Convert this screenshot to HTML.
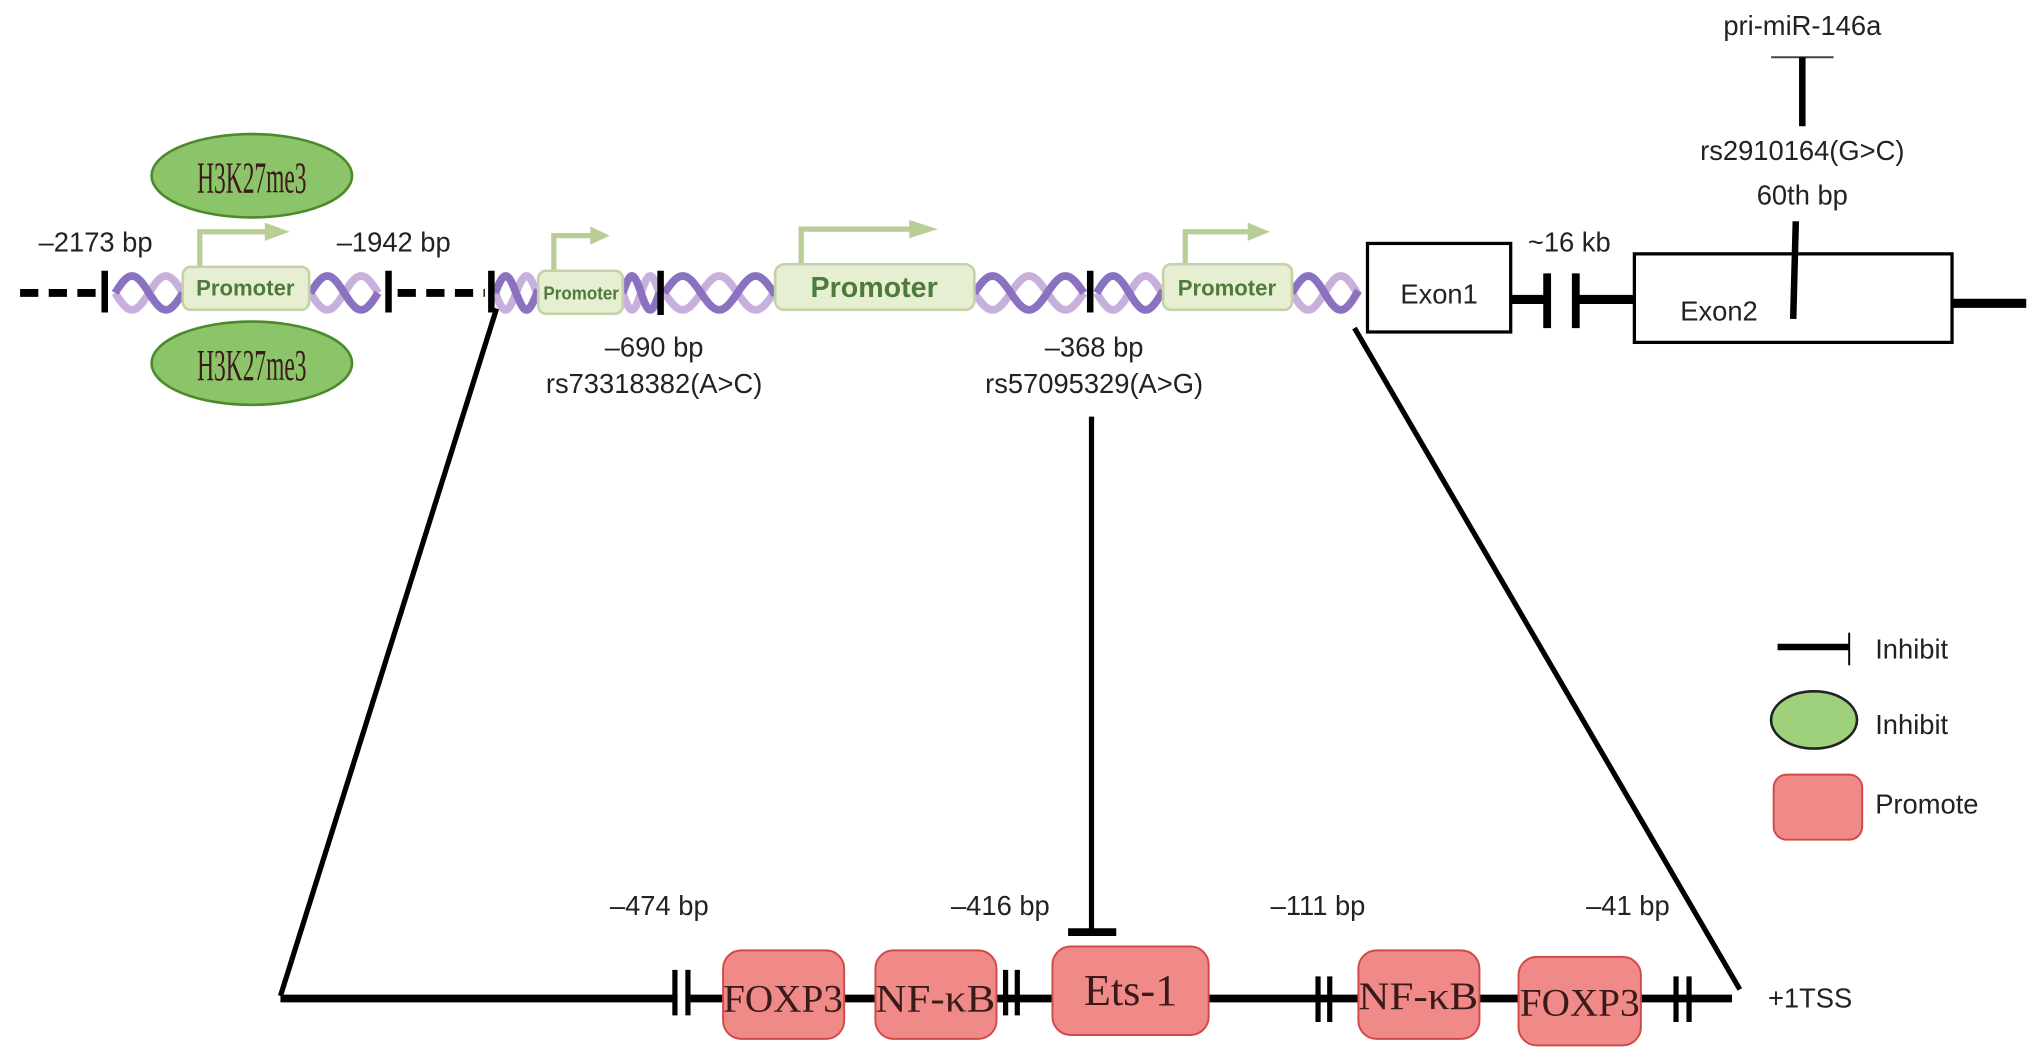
<!DOCTYPE html>
<html><head><meta charset="utf-8"><style>
html,body{margin:0;padding:0;background:#fff;}
svg{display:block;}
text{font-family:"Liberation Sans",sans-serif;fill:#222;}
.s{font-family:"Liberation Serif",serif;fill:#3a1a1a;}
</style></head><body>
<svg id="sv" width="2032" height="1061" viewBox="0 0 1560 815" xmlns="http://www.w3.org/2000/svg">
<g id="helix"></g>
<line x1="15" y1="225" x2="80" y2="225" stroke="#000" stroke-width="6" stroke-dasharray="14,8"/>
<line x1="305" y1="225" x2="372" y2="225" stroke="#000" stroke-width="6" stroke-dasharray="14,8"/>
<g stroke="#000" stroke-width="5">
<line x1="80" y1="208" x2="80" y2="240"/>
<line x1="298" y1="208" x2="298" y2="240"/>
<line x1="377" y1="208" x2="377" y2="240"/>
<line x1="507" y1="208" x2="507" y2="242"/>
<line x1="837" y1="208" x2="837" y2="240"/>
</g>
<g fill="none" stroke="#b9cd96" stroke-width="4">
<path d="M153 207 V178 H205"/><path d="M425 210 V181 H455"/><path d="M615 205 V176 H700"/><path d="M910 205 V178 H960"/>
</g>
<g fill="#b9cd96">
<polygon points="203,171 222,178 203,185"/><polygon points="453,174 468,181 453,188"/><polygon points="698,169 720,176 698,183"/><polygon points="958,171 975,178 958,185"/>
</g>
<g fill="#e7efd3" stroke="#c4d3a6" stroke-width="2">
<rect x="140" y="205" width="97" height="33" rx="6"/>
<rect x="413" y="208" width="65" height="33" rx="6"/>
<rect x="595" y="203" width="153" height="35" rx="7"/>
<rect x="893" y="203" width="99" height="35" rx="6"/>
</g>
<g font-weight="bold" text-anchor="middle">
<text x="188" y="227" font-size="17" style="fill:#4e7a3a">Promoter</text>
<text x="446" y="230" font-size="14" style="fill:#4e7a3a" textLength="58" lengthAdjust="spacingAndGlyphs">Promoter</text>
<text x="671" y="228" font-size="22" style="fill:#4e7a3a">Promoter</text>
<text x="942" y="227" font-size="17" style="fill:#4e7a3a">Promoter</text>
</g>
<g fill="#8cc46a" stroke="#4c8a2c" stroke-width="2">
<ellipse cx="193" cy="135" rx="77" ry="32"/><ellipse cx="193" cy="279" rx="77" ry="32"/>
</g>
<text class="s" x="193" y="148" font-size="34" text-anchor="middle" textLength="84" lengthAdjust="spacingAndGlyphs">H3K27me3</text>
<text class="s" x="193" y="292" font-size="34" text-anchor="middle" textLength="84" lengthAdjust="spacingAndGlyphs">H3K27me3</text>
<g stroke="#000" fill="none">
<rect x="1050" y="187" width="110" height="68" stroke-width="2.5" fill="#fff"/>
<rect x="1255" y="195" width="244" height="68" stroke-width="2.5" fill="#fff"/>
<line x1="1160" y1="230" x2="1186" y2="230" stroke-width="7"/>
<line x1="1188" y1="210" x2="1188" y2="252" stroke-width="6"/>
<line x1="1210" y1="210" x2="1210" y2="252" stroke-width="6"/>
<line x1="1210" y1="230" x2="1255" y2="230" stroke-width="7"/>
<line x1="1499" y1="233" x2="1556" y2="233" stroke-width="7"/>
<line x1="1379" y1="170" x2="1377" y2="245" stroke-width="5"/>
<line x1="1360" y1="44" x2="1408" y2="44" stroke-width="1.5" stroke="#444"/>
<line x1="1384" y1="44" x2="1384" y2="97" stroke-width="5"/>
</g>
<g font-size="21" text-anchor="middle">
<text x="1105" y="233">Exon1</text>
<text x="1320" y="246">Exon2</text>
<text x="1384" y="27">pri-miR-146a</text>
<text x="1384" y="123">rs2910164(G&gt;C)</text>
<text x="1384" y="157">60th bp</text>
<text x="1205" y="193">~16 kb</text>
<text x="73" y="193">–2173 bp</text>
<text x="302" y="193">–1942 bp</text>
<text x="502" y="274">–690 bp</text>
<text x="502" y="302">rs73318382(A&gt;C)</text>
<text x="840" y="274">–368 bp</text>
<text x="840" y="302">rs57095329(A&gt;G)</text>
<text x="506" y="703">–474 bp</text>
<text x="768" y="703">–416 bp</text>
<text x="1012" y="703">–111 bp</text>
<text x="1250" y="703">–41 bp</text>
<text x="1390" y="774">+1TSS</text>
</g>
<g stroke="#000" fill="none">
<line x1="381" y1="237" x2="215" y2="765" stroke-width="4"/>
<line x1="1040" y1="252" x2="1336" y2="760" stroke-width="4"/>
<line x1="838" y1="320" x2="838" y2="716" stroke-width="4"/>
<line x1="820" y1="716" x2="857" y2="716" stroke-width="6"/>
<line x1="215" y1="767" x2="520" y2="767" stroke-width="6"/>
<line x1="530" y1="767" x2="1330" y2="767" stroke-width="6"/>
</g>
<g stroke="#000" stroke-width="4">
<line x1="518" y1="745" x2="518" y2="780"/><line x1="528" y1="745" x2="528" y2="780"/>
<line x1="772" y1="745" x2="772" y2="780"/><line x1="781" y1="745" x2="781" y2="780"/>
<line x1="1012" y1="750" x2="1012" y2="785"/><line x1="1021" y1="750" x2="1021" y2="785"/>
<line x1="1287" y1="750" x2="1287" y2="785"/><line x1="1297" y1="750" x2="1297" y2="785"/>
</g>
<g fill="#ef8a88" stroke="#d04a48" stroke-width="1.5">
<rect x="555" y="730" width="93" height="68" rx="14"/>
<rect x="672" y="730" width="93" height="68" rx="14"/>
<rect x="808" y="727" width="120" height="68" rx="14"/>
<rect x="1043" y="730" width="93" height="68" rx="14"/>
<rect x="1166" y="735" width="94" height="68" rx="14"/>
</g>
<g font-size="30" text-anchor="middle">
<text class="s" x="601" y="777" textLength="92" lengthAdjust="spacingAndGlyphs">FOXP3</text>
<text class="s" x="718" y="777" textLength="92" lengthAdjust="spacingAndGlyphs">NF-κB</text>
<text class="s" x="868" y="772" font-size="34">Ets-1</text>
<text class="s" x="1089" y="775" textLength="92" lengthAdjust="spacingAndGlyphs">NF-κB</text>
<text class="s" x="1213" y="780" textLength="92" lengthAdjust="spacingAndGlyphs">FOXP3</text>
</g>
<line x1="1365" y1="497" x2="1420" y2="497" stroke="#000" stroke-width="5"/>
<line x1="1420" y1="486" x2="1420" y2="511" stroke="#000" stroke-width="1.5"/>
<ellipse cx="1393" cy="553" rx="33" ry="22" fill="#9fd07c" stroke="#222" stroke-width="2"/>
<rect x="1362" y="595" width="68" height="50" rx="10" fill="#ef8a88" stroke="#d04a48" stroke-width="1.5"/>
<g font-size="21"><text x="1440" y="506">Inhibit</text><text x="1440" y="564">Inhibit</text><text x="1440" y="625">Promote</text></g>
</svg>
<script>
(function(){
var g=document.getElementById('helix');var ns='http://www.w3.org/2000/svg';
var segs=[[88,140,52],[238,290,52],[380,413,32],[478,506,28],[510,595,56],[748,832,56],[842,893,50],[992,1043,50]];
segs.forEach(function(s){
 var x0=s[0],x1=s[1],per=s[2];
 [[0,'#c8b0dc'],[Math.PI,'#8a72c0']].forEach(function(p){
  var d='';for(var x=x0;x<=x1;x+=1){var y=225+13*Math.sin((x-x0)/per*2*Math.PI+p[0]);d+=(d?'L':'M')+x+' '+y.toFixed(1);}
  var e=document.createElementNS(ns,'path');e.setAttribute('d',d);e.setAttribute('fill','none');e.setAttribute('stroke',p[1]);e.setAttribute('stroke-width','6');g.appendChild(e);
 });
});
})();
</script>
</body></html>
